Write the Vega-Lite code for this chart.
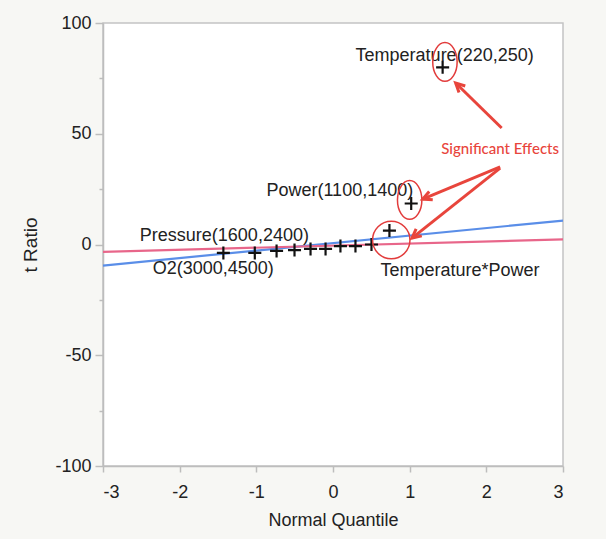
{
  "$schema": "https://vega.github.io/schema/vega-lite/v6.json",
  "width": 460,
  "height": 443,
  "autosize": {"type": "none"},
  "padding": {"left": 103, "top": 23, "right": 43, "bottom": 73},
  "background": "#f7f7f4",
  "config": {
    "view": {"fill": "white", "stroke": "#c4c4c4", "strokeWidth": 1.5},
    "font": "Liberation Sans"
  },
  "datasets": {
    "effects": [
      {"term": "Pressure", "label": "Pressure(1600,2400)", "q": -1.43, "t": -3.8},
      {"term": "O2", "label": "O2(3000,4500)", "q": -1.02, "t": -3.8},
      {"term": "Pressure*O2", "label": "", "q": -0.736, "t": -2.9},
      {"term": "Temperature*O2", "label": "", "q": -0.502, "t": -2.5},
      {"term": "Power*Pressure", "label": "", "q": -0.293, "t": -2.0},
      {"term": "Power*O2", "label": "", "q": -0.097, "t": -2.0},
      {"term": "Temperature*Pressure", "label": "", "q": 0.097, "t": -0.7},
      {"term": "Temperature*Power*Pressure", "label": "", "q": 0.293, "t": -0.7},
      {"term": "Temperature*Power*O2", "label": "", "q": 0.502, "t": 0.0},
      {"term": "Temperature*Power", "label": "Temperature*Power", "q": 0.736, "t": 6.3},
      {"term": "Power", "label": "Power(1100,1400)", "q": 1.02, "t": 18.5},
      {"term": "Temperature", "label": "Temperature(220,250)", "q": 1.43, "t": 80.0}
    ],
    "fits": [
      {"fit": "blue", "q": -3, "t": -9.5},
      {"fit": "blue", "q": 3, "t": 10.8},
      {"fit": "red", "q": -3, "t": -3.3},
      {"fit": "red", "q": 3, "t": 2.3}
    ],
    "rings": [
      {"ring": "Temperature", "kind": "ellipse", "q": 1.46, "t": 82.4},
      {"ring": "Power", "kind": "ellipse", "q": 1.0, "t": 20.1},
      {"ring": "Temperature*Power", "kind": "circle", "q": 0.76, "t": 2.0}
    ],
    "arrows": [
      {"arrow": "a1", "qa": 2.20, "ta": 52.6, "q": 1.60, "t": 72.9},
      {"arrow": "a2", "qa": 2.18, "ta": 35.0, "q": 1.17, "t": 20.5},
      {"arrow": "a3", "qa": 2.18, "ta": 34.5, "q": 1.03, "t": 2.9}
    ],
    "note": [
      {"label": "Significant Effects", "q": 2.18, "t": 43.0}
    ]
  },
  "encoding": {
    "x": {
      "field": "q",
      "type": "quantitative",
      "scale": {"domain": [-3, 3], "nice": false, "zero": false},
      "axis": {
        "title": "Normal Quantile",
        "values": [-3, -2, -1, 0, 1, 2, 3],
        "labelExpr": "'' + datum.value",
        "grid": false,
        "domainColor": "#bdbdbd",
        "domainWidth": 1.5,
        "tickColor": "#bdbdbd",
        "tickWidth": 1.5,
        "tickSize": 6,
        "labelFontSize": 18,
        "labelColor": "#222",
        "labelPadding": 11,
        "titleFontSize": 18,
        "titleFontWeight": "normal",
        "titleColor": "#222",
        "titlePadding": 10
      }
    },
    "y": {
      "field": "t",
      "type": "quantitative",
      "scale": {"domain": [-100, 100], "nice": false},
      "axis": {
        "title": "t Ratio",
        "values": [-100, -75, -50, -25, 0, 25, 50, 75, 100],
        "labelExpr": "datum.value % 50 === 0 ? '' + datum.value : ''",
        "grid": false,
        "domainColor": "#bdbdbd",
        "domainWidth": 1.5,
        "tickColor": "#bdbdbd",
        "tickWidth": 1.5,
        "tickSize": {"condition": {"test": "datum.value % 50 !== 0", "value": 4}, "value": 8},
        "labelFontSize": 18,
        "labelColor": "#222",
        "labelPadding": 4,
        "titleFontSize": 19,
        "titleFontWeight": "normal",
        "titleColor": "#222",
        "titlePadding": 14
      }
    }
  },
  "layer": [
    {
      "data": {"name": "fits"},
      "mark": {"type": "line", "strokeWidth": 2.2},
      "encoding": {
        "color": {
          "field": "fit",
          "type": "nominal",
          "scale": {"domain": ["blue", "red"], "range": ["#5a8ee8", "#e8668a"]},
          "legend": null
        },
        "detail": {"field": "fit"}
      }
    },
    {
      "data": {"name": "effects"},
      "mark": {"type": "point", "shape": "M-1,0L1,0M0,-1L0,1", "filled": false, "color": "#111", "strokeWidth": 2.2, "size": 170, "opacity": 1}
    },
    {
      "data": {"name": "effects"},
      "transform": [{"filter": "datum.term === 'Temperature'"}],
      "mark": {"type": "text", "align": "center", "baseline": "middle", "dx": 2, "dy": -11, "fontSize": 18, "color": "#222"},
      "encoding": {"text": {"field": "label"}}
    },
    {
      "data": {"name": "effects"},
      "transform": [{"filter": "datum.term === 'Power'"}],
      "mark": {"type": "text", "align": "right", "baseline": "middle", "dx": 2, "dy": -13, "fontSize": 18, "color": "#222"},
      "encoding": {"text": {"field": "label"}}
    },
    {
      "data": {"name": "effects"},
      "transform": [{"filter": "datum.term === 'Pressure'"}],
      "mark": {"type": "text", "align": "center", "baseline": "middle", "dx": 1, "dy": -17, "fontSize": 18, "color": "#222"},
      "encoding": {"text": {"field": "label"}}
    },
    {
      "data": {"name": "effects"},
      "transform": [{"filter": "datum.term === 'O2'"}],
      "mark": {"type": "text", "align": "right", "baseline": "middle", "dx": 19, "dy": 16, "fontSize": 18, "color": "#222"},
      "encoding": {"text": {"field": "label"}}
    },
    {
      "data": {"name": "effects"},
      "transform": [{"filter": "datum.term === 'Temperature*Power'"}],
      "mark": {"type": "text", "align": "left", "baseline": "middle", "dx": -9, "dy": 40, "fontSize": 18, "color": "#222"},
      "encoding": {"text": {"field": "label"}}
    },
    {
      "data": {"name": "rings"},
      "transform": [{"filter": "datum.kind === 'ellipse'"}],
      "mark": {"type": "point", "shape": "M0,-1A0.63,1,0,1,1,0,1A0.63,1,0,1,1,0,-1Z", "filled": false, "color": "#e23c3c", "strokeWidth": 1.5, "size": 1500, "opacity": 1}
    },
    {
      "data": {"name": "rings"},
      "transform": [{"filter": "datum.kind === 'circle'"}],
      "mark": {"type": "point", "shape": "circle", "filled": false, "color": "#e23c3c", "strokeWidth": 1.5, "size": 1400, "opacity": 1}
    },
    {
      "data": {"name": "arrows"},
      "mark": {"type": "rule", "color": "#e8453c", "strokeWidth": 3},
      "encoding": {"x2": {"field": "qa"}, "y2": {"field": "ta"}}
    },
    {
      "data": {"name": "arrows"},
      "transform": [{"filter": "datum.arrow === 'a1'"}],
      "mark": {"type": "point", "shape": "M-0.6,1.2L0,0L0.6,1.2", "filled": false, "color": "#e8453c", "strokeWidth": 3, "size": 225, "angle": 314, "opacity": 1}
    },
    {
      "data": {"name": "arrows"},
      "transform": [{"filter": "datum.arrow === 'a2'"}],
      "mark": {"type": "point", "shape": "M-0.6,1.2L0,0L0.6,1.2", "filled": false, "color": "#e8453c", "strokeWidth": 3, "size": 225, "angle": 247, "opacity": 1}
    },
    {
      "data": {"name": "arrows"},
      "transform": [{"filter": "datum.arrow === 'a3'"}],
      "mark": {"type": "point", "shape": "M-0.6,1.2L0,0L0.6,1.2", "filled": false, "color": "#e8453c", "strokeWidth": 3, "size": 225, "angle": 231, "opacity": 1}
    },
    {
      "data": {"name": "note"},
      "mark": {"type": "text", "align": "center", "baseline": "middle", "font": "Lato", "fontSize": 15, "fontWeight": 500, "color": "#e8453c"},
      "encoding": {"text": {"field": "label"}}
    }
  ]
}
